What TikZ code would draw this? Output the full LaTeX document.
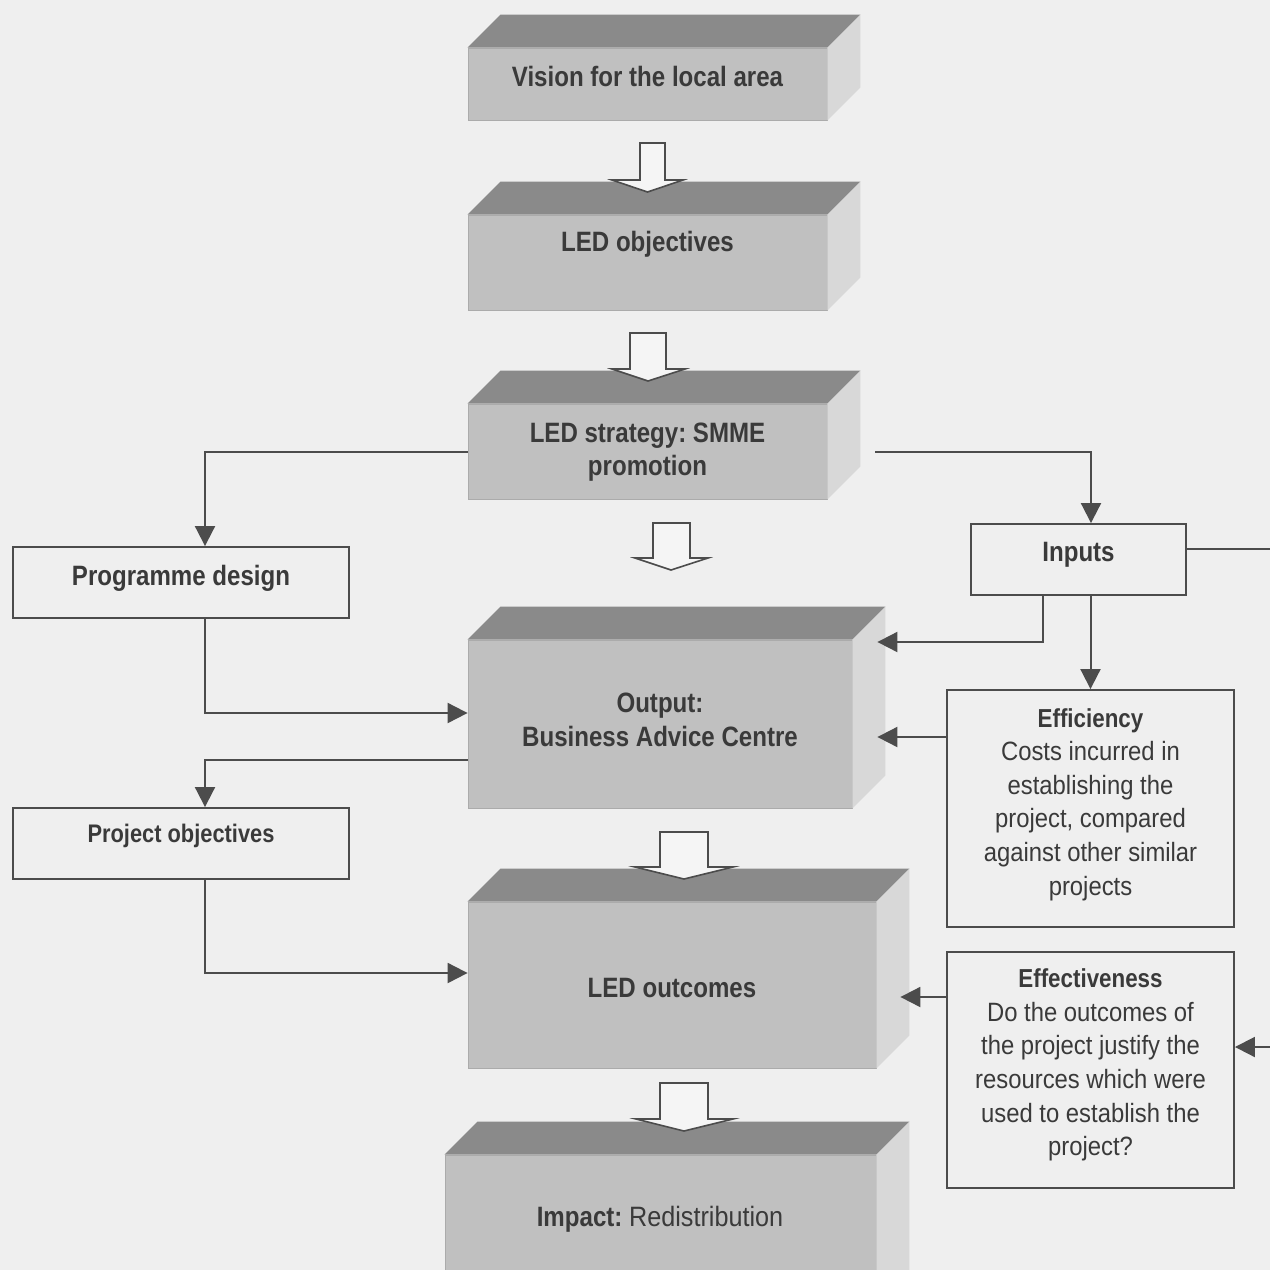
\documentclass[tikz,border=0pt]{standalone}
\usepackage{fontspec}
\setmainfont{Liberation Sans}[FakeStretch=0.9, BoldFeatures={FakeStretch=0.86}]
\usetikzlibrary{calc,arrows.meta}
\frenchspacing

\definecolor{paper}{HTML}{EFEFEF}
\definecolor{ink}{HTML}{3A3A3A}
\definecolor{rule}{HTML}{4C4C4C}
\definecolor{frontc}{HTML}{C0C0C0}
\definecolor{frontedge}{HTML}{ABABAB}
\definecolor{topc}{HTML}{8A8A8A}
\definecolor{sidec}{HTML}{D8D8D8}
\definecolor{hollowfill}{HTML}{F5F5F5}

\tikzset{
  front/.style={fill=frontc, draw=frontedge, line width=0.8pt, inner sep=0pt},
  plainbox/.style={draw=rule, fill=paper, line width=1.9pt, inner sep=0pt},
  lbl/.style={text=ink, align=center, inner sep=0pt, font=\bfseries\fontsize{28}{33.5}\selectfont},
  note/.style={text=ink, align=center, inner sep=0pt, font=\fontsize{26.5}{33.6}\selectfont},
  topface/.style={fill=topc},
  sideface/.style={fill=sidec},
  conn/.style={draw=rule, line width=2pt, -{Triangle[length=20pt,width=20pt]}},
  hollow/.style={draw=rule, fill=hollowfill, line width=1.6pt, line join=miter},
}

\begin{document}
\begin{tikzpicture}[x=1pt,y=-1pt]
\useasboundingbox (0,0) rectangle (1270,1270);
\clip (0,0) rectangle (1270,1270);
\fill[paper] (0,0) rectangle (1270,1270);

% front faces of the slabs
\node[front, minimum width=359pt, minimum height=72pt] (vision) at (647.5,84) {};
\node[front, minimum width=359pt, minimum height=95pt] (ledobj) at (647.5,262.5) {};
\node[front, minimum width=359pt, minimum height=95pt] (strategy) at (647.5,451.5) {};
\node[front, minimum width=384pt, minimum height=168pt] (output) at (660,724) {};
\node[front, minimum width=408pt, minimum height=166pt] (outcomes) at (672,985) {};
\node[front, minimum width=431pt, minimum height=150pt] (impact) at (660.5,1230) {};

% top and side faces
\foreach \b in {vision,ledobj,strategy,output,outcomes,impact} {
  \fill[topface] (\b.north west) -- ++(33,-33) -- ($(\b.north east)+(33,-33)$) -- (\b.north east) -- cycle;
  \fill[sideface] (\b.north east) -- ++(33,-33) -- ($(\b.south east)+(33,-33)$) -- (\b.south east) -- cycle;
}

% slab labels
\node[lbl] (visiontext) at ([yshift=8pt]vision.center) {Vision for the local area};
\node[lbl] (ledobjtext) at ([yshift=18pt]ledobj.center) {LED objectives};
\node[lbl] (strategytext) at ([yshift=-0.5pt]strategy.center) {LED strategy: SMME\\promotion};
\node[lbl] (outputtext) at ([yshift=4pt]output.center) {Output:\\Business Advice Centre};
\node[lbl] (outcomestext) at ([yshift=-3pt]outcomes.center) {LED outcomes};
\node[lbl] (impacttext) at (660,1219) {\textbf{Impact:} \mdseries Redistribution};

% hollow block arrows between the slabs
\draw[hollow] (640,143) -- (665,143) -- (665,180) -- (683,180) -- (647.5,192) -- (612,180) -- (640,180) -- cycle;
\draw[hollow] (630,333) -- (666,333) -- (666,369) -- (685,369) -- (648,381) -- (612,369) -- (630,369) -- cycle;
\draw[hollow] (653,523) -- (690,523) -- (690,558) -- (708,558) -- (671,570) -- (635,558) -- (653,558) -- cycle;
\draw[hollow] (660,832) -- (708,832) -- (708,867) -- (733,867) -- (684,879) -- (635,867) -- (660,867) -- cycle;
\draw[hollow] (660,1083) -- (708,1083) -- (708,1119) -- (733,1119) -- (684,1131) -- (636,1119) -- (660,1119) -- cycle;

% side boxes
\node[plainbox, minimum width=336pt, minimum height=71pt] (progdesign) at (181,582.5) {};
\node[lbl] (progdesigntext) at ([yshift=4pt]progdesign.center) {Programme design};
\node[plainbox, minimum width=336pt, minimum height=71pt] (projobj) at (181,843.5) {};
\node[lbl, font=\bfseries\fontsize{25.4}{30}\selectfont] (projobjtext) at ([yshift=8pt]projobj.center) {Project objectives};
\node[plainbox, minimum width=215pt, minimum height=71pt] (inputs) at (1078.5,559.5) {};
\node[lbl] (inputstext) at (1078.5,555) {Inputs};
\node[plainbox, minimum width=287pt, minimum height=237pt] (efficiency) at (1090.5,808.5) {};
\node[note] (efficiencytext) at ([yshift=4pt]efficiency.center)
  {{\bfseries\fontsize{26}{33.6}\selectfont Efficiency}\\Costs incurred in\\establishing the\\project, compared\\against other similar\\projects};
\node[plainbox, minimum width=287pt, minimum height=236pt] (effectiveness) at (1090.5,1070) {};
\node[note] (effectivenesstext) at ([yshift=5pt]effectiveness.center)
  {{\bfseries\fontsize{26}{33.6}\selectfont Effectiveness}\\Do the outcomes of\\the project justify the\\resources which were\\used to establish the\\project?};

\coordinate (rim) at (1278,0);

% connectors
\draw[conn] (strategy.west) -| ([xshift=24pt]progdesign.north);
\draw[conn] ([xshift=48pt]strategy.east) -| ([xshift=12.5pt]inputs.north);
\draw[conn] ([xshift=24pt]progdesign.south) |- ([yshift=11pt]output.west);
\draw[conn] ([yshift=-36pt]output.west) -| ([xshift=24pt]projobj.north);
\draw[conn] ([xshift=24pt]projobj.south) |- ([yshift=12pt]outcomes.west);
\draw[conn] ([xshift=-35.5pt]inputs.south) |- ([xshift=25pt,yshift=82pt]output.east);
\draw[conn] (inputs.south -| efficiency.north) -- (efficiency.north);
\draw[conn] ([yshift=71.5pt]efficiency.west) -- ([xshift=25pt,yshift=-13pt]output.east);
\draw[conn] ([yshift=73pt]effectiveness.west) -- ([xshift=24pt,yshift=-12pt]outcomes.east);
\draw[conn] ([yshift=11pt]inputs.east) -- ([yshift=11pt]inputs.east -| rim) |- ([yshift=23pt]effectiveness.east);
\end{tikzpicture}
\end{document}
